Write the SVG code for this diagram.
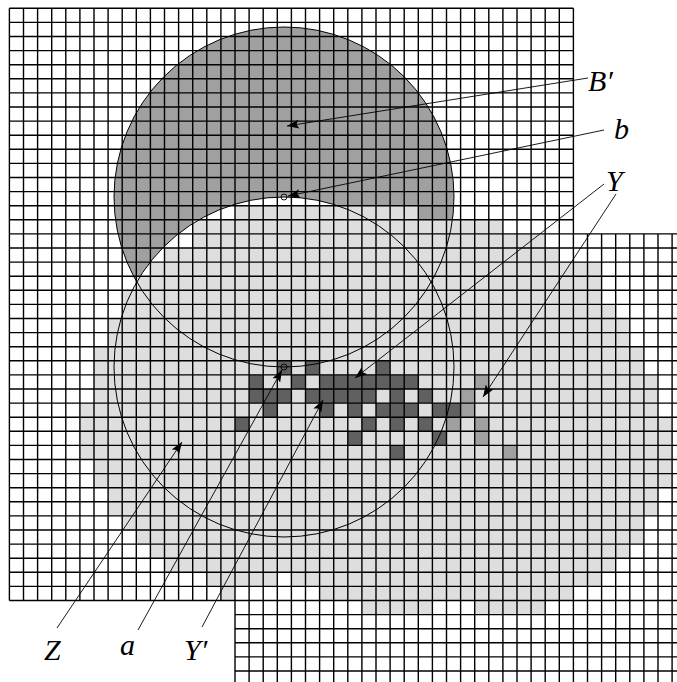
<svg xmlns="http://www.w3.org/2000/svg" width="677" height="682" viewBox="0 0 677 682">
<style>
.lbl{font-family:"Liberation Serif","DejaVu Serif",serif;font-style:italic;font-size:30px;fill:#000}
.arrow{stroke:#000;stroke-width:0.9;fill:none}
.dot{stroke:#000;stroke-width:0.9;fill:none}
.z{fill:#dedede}
.yp{fill:#606060}
.ym{fill:#a0a0a0}
</style>
<defs>
<marker id="ah" markerUnits="userSpaceOnUse" markerWidth="13" markerHeight="9" refX="12" refY="4.5" orient="auto">
<path d="M0,0 L12,4.5 L0,9 L2.5,4.5 Z" fill="#000"/>
</marker>
</defs>
<rect width="677" height="682" fill="#fff"/>
<g id="region-Bprime">
<circle cx="284" cy="197" r="170" fill="#a0a0a0"/>
<circle cx="284" cy="367" r="170" fill="#fff"/>
</g>
<g transform="translate(9.4 8.3) scale(14.1)">
<g id="region-Z" class="z">
<rect x="16" y="14" width="13" height="1"/>
<rect x="13" y="15" width="22" height="1"/>
<rect x="13" y="16" width="25" height="1"/>
<rect x="11" y="17" width="28" height="1"/>
<rect x="10" y="18" width="32" height="1"/>
<rect x="9" y="19" width="33" height="1"/>
<rect x="8" y="20" width="34" height="1"/>
<rect x="8" y="21" width="35" height="1"/>
<rect x="7" y="22" width="37" height="1"/>
<rect x="7" y="23" width="37" height="1"/>
<rect x="6" y="24" width="39" height="1"/>
<rect x="6" y="25" width="39" height="1"/>
<rect x="6" y="26" width="40" height="1"/>
<rect x="6" y="27" width="40" height="1"/>
<rect x="5" y="28" width="41" height="1"/>
<rect x="5" y="29" width="42" height="1"/>
<rect x="5" y="30" width="42" height="1"/>
<rect x="5" y="31" width="42" height="1"/>
<rect x="6" y="32" width="41" height="1"/>
<rect x="6" y="33" width="41" height="1"/>
<rect x="7" y="34" width="39" height="1"/>
<rect x="7" y="35" width="39" height="1"/>
<rect x="8" y="36" width="37" height="1"/>
<rect x="9" y="37" width="36" height="1"/>
<rect x="10" y="38" width="34" height="1"/>
<rect x="11" y="39" width="32" height="1"/>
<rect x="14" y="40" width="5" height="1"/>
<rect x="20" y="40" width="22" height="1"/>
<rect x="15" y="41" width="1" height="1"/>
<rect x="22" y="41" width="18" height="1"/>
<rect x="25" y="42" width="5" height="1"/>
<rect x="33" y="42" width="5" height="1"/>
</g>
<g id="cells-Yprime" class="yp">
<rect x="19" y="25" width="1" height="1"/><rect x="21" y="25" width="1" height="1"/><rect x="26" y="25" width="1" height="1"/>
<rect x="17" y="26" width="1" height="1"/><rect x="20" y="26" width="1" height="1"/><rect x="22" y="26" width="7" height="1"/>
<rect x="17" y="27" width="3" height="1"/><rect x="21" y="27" width="5" height="1"/><rect x="27" y="27" width="1" height="1"/><rect x="29" y="27" width="1" height="1"/>
<rect x="18" y="28" width="1" height="1"/><rect x="22" y="28" width="1" height="1"/><rect x="24" y="28" width="1" height="1"/><rect x="26" y="28" width="3" height="1"/><rect x="30" y="28" width="2" height="1"/>
<rect x="16" y="29" width="1" height="1"/><rect x="25" y="29" width="1" height="1"/><rect x="27" y="29" width="1" height="1"/><rect x="29" y="29" width="1" height="1"/>
<rect x="24" y="30" width="1" height="1"/><rect x="30" y="30" width="1" height="1"/>
<rect x="27" y="31" width="1" height="1"/>
</g>
<g id="cells-Y" class="ym">
<rect x="33" y="26" width="1" height="1"/>
<rect x="32" y="27" width="1" height="2"/>
<rect x="31" y="29" width="1" height="1"/>
<rect x="33" y="29" width="1" height="2"/>
<rect x="35" y="31" width="1" height="1"/>
</g>
<g id="grid">
<path fill="none" stroke="#000" stroke-width="1.4" vector-effect="non-scaling-stroke" d="M0 0V42M1 0V42M2 0V42M3 0V42M4 0V42M5 0V42M6 0V42M7 0V42M8 0V42M9 0V42M10 0V42M11 0V42M12 0V42M13 0V42M14 0V42M15 0V42M16 0V48M17 0V48M18 0V48M19 0V48M20 0V48M21 0V48M22 0V48M23 0V48M24 0V48M25 0V48M26 0V48M27 0V48M28 0V48M29 0V48M30 0V48M31 0V48M32 0V48M33 0V48M34 0V48M35 0V48M36 0V48M37 0V48M38 0V48M39 0V48M40 0V48M41 16V48M42 16V48M43 16V48M44 16V48M45 16V48M46 16V48M47 16V48M0 0H40M0 1H40M0 2H40M0 3H40M0 4H40M0 5H40M0 6H40M0 7H40M0 8H40M0 9H40M0 10H40M0 11H40M0 12H40M0 13H40M0 14H40M0 15H40M0 16H48M0 17H48M0 18H48M0 19H48M0 20H48M0 21H48M0 22H48M0 23H48M0 24H48M0 25H48M0 26H48M0 27H48M0 28H48M0 29H48M0 30H48M0 31H48M0 32H48M0 33H48M0 34H48M0 35H48M0 36H48M0 37H48M0 38H48M0 39H48M0 40H48M0 41H48M0 42H48M16 43H48M16 44H48M16 45H48M16 46H48M16 47H48"/>
</g>
</g>
<g id="circles" fill="none" stroke="#000" stroke-width="1">
<circle cx="284" cy="197" r="170"/>
<circle cx="284" cy="367" r="170"/>
</g>
<g id="connectors">
<line class="arrow" x1="588" y1="78" x2="287" y2="126" marker-end="url(#ah)"/>
<line class="arrow" x1="604" y1="130" x2="288" y2="196" marker-end="url(#ah)"/>
<circle class="dot" cx="284" cy="197" r="3"/>
<line class="arrow" x1="604" y1="184" x2="355" y2="378" marker-end="url(#ah)"/>
<line class="arrow" x1="616" y1="194" x2="483" y2="397" marker-end="url(#ah)"/>
<line class="arrow" x1="57" y1="628" x2="182" y2="442" marker-end="url(#ah)"/>
<line class="arrow" x1="138" y1="630" x2="282" y2="370" marker-end="url(#ah)"/>
<circle class="dot" cx="284" cy="367" r="3"/>
<line class="arrow" x1="202" y1="627" x2="323" y2="400" marker-end="url(#ah)"/>
</g>
<g id="label-Bprime"><text class="lbl" x="588" y="91">B′</text></g>
<g id="label-b"><text class="lbl" x="614" y="139">b</text></g>
<g id="label-Y"><text class="lbl" x="606" y="191">Y</text></g>
<g id="label-Z"><text class="lbl" x="44" y="660">Z</text></g>
<g id="label-a"><text class="lbl" x="120" y="655">a</text></g>
<g id="label-Yprime"><text class="lbl" x="184" y="660">Y′</text></g>
</svg>
